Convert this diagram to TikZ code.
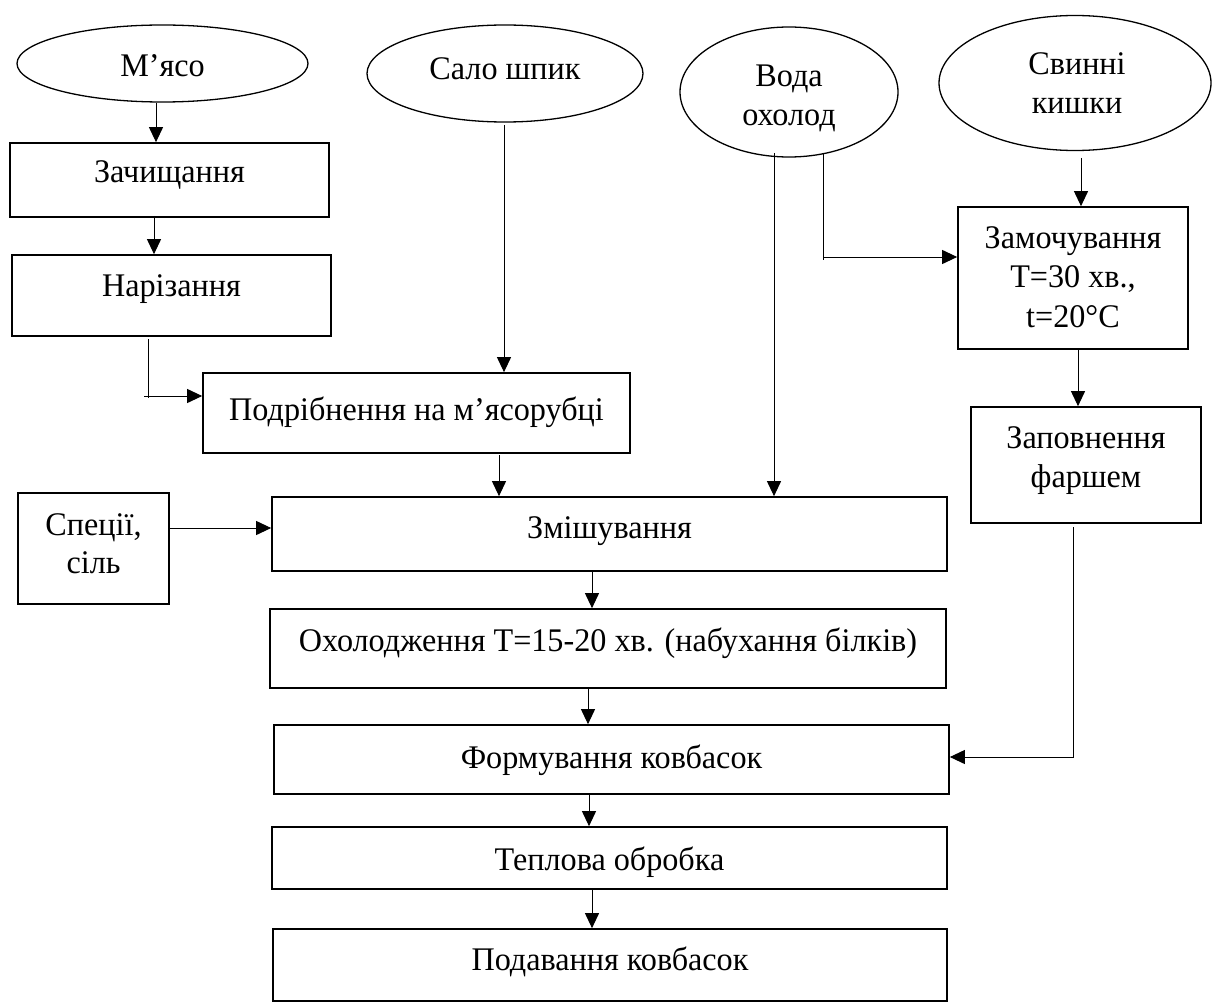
\documentclass[tikz,border=0pt]{standalone}
\usepackage{fontspec}
\setmainfont{Liberation Serif}[FakeStretch=0.975]
\usetikzlibrary{shapes.geometric,arrows.meta}
\begin{document}
\begin{tikzpicture}[x=1pt,y=-1pt,
  box/.style={draw,line width=1.7pt,rectangle,inner sep=0pt},
  oval/.style={draw,line width=1.3pt,ellipse,inner sep=0pt},
  txt/.style={inner sep=0pt,anchor=base,font=\fontsize{33}{39.5}\selectfont},
  arr/.style={line width=1pt,-{Triangle[length=15pt,width=14pt]}},
  ln/.style={line width=1pt}]
\useasboundingbox (0,0) rectangle (1212,1003);
% ovals
\node[oval,minimum width=291pt,minimum height=77pt] (meat) at (162.5,63.5) {};
\node[oval,minimum width=276pt,minimum height=97pt] (salo) at (505,73.5) {};
\node[oval,minimum width=218pt,minimum height=130pt] (voda) at (789,92) {};
\node[oval,minimum width=272pt,minimum height=135pt] (kysh) at (1075,83) {};
% boxes
\node[box,minimum width=319pt,minimum height=74pt] (zach) at (169.5,180) {};
\node[box,minimum width=319pt,minimum height=81pt] (nariz) at (171.5,295.5) {};
\node[box,minimum width=427pt,minimum height=80pt] (podr) at (416.5,413) {};
\node[box,minimum width=230pt,minimum height=142pt] (zamoch) at (1073,278) {};
\node[box,minimum width=230pt,minimum height=116pt] (zapov) at (1086,465) {};
\node[box,minimum width=151pt,minimum height=111pt] (spec) at (93.5,548.5) {};
\node[box,minimum width=675pt,minimum height=74pt] (zmish) at (609.5,534) {};
\node[box,minimum width=676pt,minimum height=79pt] (okhol) at (608,648.5) {};
\node[box,minimum width=675pt,minimum height=69pt] (form) at (611.5,759.5) {};
\node[box,minimum width=675pt,minimum height=62pt] (tepl) at (609.5,858) {};
\node[box,minimum width=674pt,minimum height=72pt] (podav) at (610,965) {};
% texts
\node[txt] (t-meat) at (162.5,77) {М’ясо};
\node[txt] (t-salo) at (505,80) {Сало шпик};
\node[txt] (t-voda1) at (789,87) {Вода};
\node[txt] (t-voda2) at (789,126) {охолод};
\node[txt] (t-kysh1) at (1077,75) {Свинні};
\node[txt] (t-kysh2) at (1077,114) {кишки};
\node[txt] (t-zach) at (169.5,183) {Зачищання};
\node[txt] (t-nariz) at (171.5,296) {Нарізання};
\node[txt] (t-podr) at (416.5,420) {Подрібнення на м’ясорубці};
\node[txt] (t-zam1) at (1073,248) {Замочування};
\node[txt] (t-zam2) at (1073,287.5) {T=30 хв.,};
\node[txt] (t-zam3) at (1073,327) {t=20°C};
\node[txt] (t-zap1) at (1086,448) {Заповнення};
\node[txt] (t-zap2) at (1086,487.5) {фаршем};
\node[txt] (t-spec1) at (93.5,535) {Спеції,};
\node[txt] (t-spec2) at (93.5,573) {сіль};
\node[txt] (t-zmish) at (609.5,538) {Змішування};
\node[txt] (t-okhol) at (608,651) {Охолодження T=15-20 хв. (набухання білків)};
\node[txt] (t-form) at (611.5,768) {Формування ковбасок};
\node[txt] (t-tepl) at (609.5,870) {Теплова обробка};
\node[txt] (t-podav) at (610,970) {Подавання ковбасок};
% connectors
\draw[arr] (meat.south -| 156,0) -- (zach.north -| 156,0);
\draw[arr] ([yshift=2pt]zach.south -| 154,0) -- (nariz.north -| 154,0);
\coordinate (n1) at (148,339);
\coordinate (n2) at (148,398);
\coordinate (n3) at (144,396);
\draw[ln] (n1) -- (n2);
\draw[arr] (n3) -- (podr.west |- n3);
\draw[arr] (504,125) -- (podr.north -| 504,0);
\draw[arr] (774,153) -- (zmish.north -| 774,0);
\coordinate (v1) at (823,154);
\coordinate (v2) at (823,260);
\coordinate (v3) at (823,257);
\draw[ln] (v1) -- (v2);
\draw[arr] (v3) -- (zamoch.west |- v3);
\draw[arr] (1081,158) -- (zamoch.north -| 1081,0);
\draw[arr] ([yshift=1pt]zamoch.south -| 1078,0) -- (zapov.north -| 1078,0);
\coordinate (z1) at (1073,527);
\coordinate (z2) at (1073,757);
\draw[arr] (z1) -- (z2) -- (form.east |- z2);
\draw[arr] (499,455) -- (zmish.north -| 499,0);
\draw[arr] (spec.east |- 0,528) -- (zmish.west |- 0,528);
\draw[arr] (zmish.south -| 592,0) -- (okhol.north -| 592,0);
\draw[arr] (okhol.south -| 588,0) -- (form.north -| 588,0);
\draw[arr] (form.south -| 589,0) -- (tepl.north -| 589,0);
\draw[arr] (tepl.south -| 592,0) -- (podav.north -| 592,0);
\end{tikzpicture}
\end{document}
